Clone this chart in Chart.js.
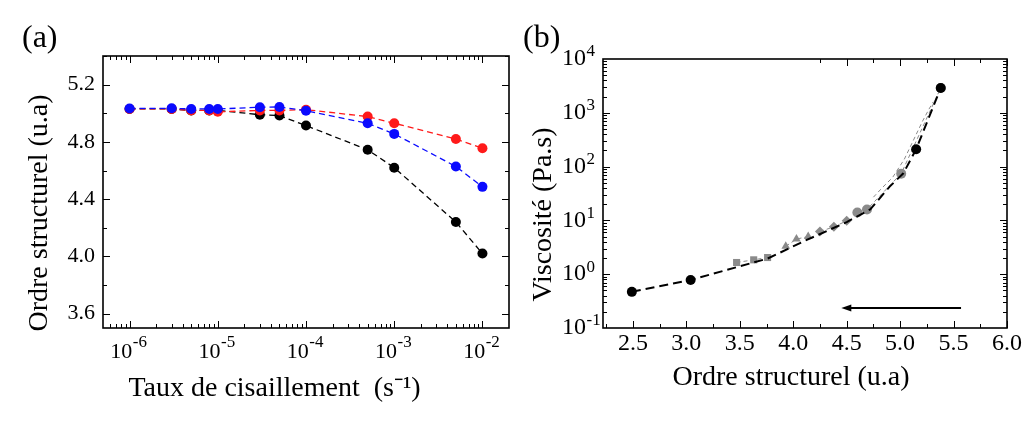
<!DOCTYPE html>
<html>
<head>
<meta charset="utf-8">
<script src="https://cdn.jsdelivr.net/npm/chart.js@4.4.0/dist/chart.umd.min.js"></script>
<style>
  html, body { margin: 0; padding: 0; background: #fff; }
  #wrap { position: relative; width: 1024px; height: 425px; overflow: hidden; }
  .panel { position: absolute; top: 0; height: 425px; }
  #pa { left: 0; width: 520px; }
  #pb { left: 520px; width: 504px; }
  .lbl { position: absolute; top: 20px; font-family: "Liberation Serif", serif; font-size: 32px; line-height: 1; color: #000; }
</style>
</head>
<body>
<div id="wrap">
  <div class="panel" id="pa"><canvas id="chartA" width="520" height="425"></canvas></div>
  <div class="panel" id="pb"><canvas id="chartB" width="504" height="425"></canvas></div>
  <div class="lbl" style="left:22px">(a)</div>
  <div class="lbl" style="left:523px">(b)</div>
</div>
<script>
// ---- Panel (a) data : ordre structurel vs taux de cisaillement
const shearRates = [1e-6, 3e-6, 5e-6, 8e-6, 1e-5, 3e-5, 5e-5, 1e-4, 5e-4, 1e-3, 5e-3, 1e-2];
const orderBlack = [5.03, 5.03, 5.02, 5.02, 5.02, 4.99, 4.984, 4.914, 4.745, 4.62, 4.24, 4.02];
const orderRed   = [5.03, 5.03, 5.02, 5.02, 5.01, 5.02, 5.02, 5.025, 4.977, 4.93, 4.82, 4.755];
const orderBlue  = [5.033, 5.035, 5.03, 5.03, 5.03, 5.042, 5.044, 5.018, 4.93, 4.856, 4.628, 4.486];
const aXTicks = [1e-6, 1e-5, 1e-4, 1e-3, 1e-2];
const aYTicks = [3.6, 4.0, 4.4, 4.8, 5.2];

// ---- Panel (b) data : viscosite vs ordre structurel
const fitOrder = [2.49, 3.04, 3.76, 4.1, 4.5, 4.72, 4.9, 5.03, 5.15, 5.38];
const fitVisc  = [0.47, 0.78, 1.95, 4.1, 9.3, 16, 42, 75, 210, 2900];
const blackOrder = [2.49, 3.04, 5.15, 5.38];
const blackVisc  = [0.47, 0.78, 210, 2900];
const squareOrder = [3.47, 3.63, 3.76];
const squareVisc  = [1.65, 1.85, 2.04];
const triOrder = [3.93, 4.03, 4.14];
const triVisc  = [3.3, 4.5, 5.0];
const diamOrder = [4.25, 4.38, 4.50];
const diamVisc  = [6.2, 7.6, 9.8];
const circOrder = [4.60, 4.69, 5.01, 5.38];
const circVisc  = [14, 16, 74, 2900];
const crossOrder = [4.75, 4.83, 4.93, 5.04, 5.21, 5.27, 5.31];
const crossVisc  = [27, 40, 63, 138, 700, 1170, 1600];
const bXTicks = [2.5, 3.0, 3.5, 4.0, 4.5, 5.0, 5.5, 6.0];
const bYTicks = [0.1, 1, 10, 100, 1000, 10000];
const arrowFrom = [5.57, 0.235];
const arrowTo   = [4.45, 0.235];

const SERIF = '"Liberation Serif", "Times New Roman", serif';
const pts = (xs, ys) => xs.map((x, i) => ({x: x, y: ys[i]}));
const expOf = v => String(Math.round(Math.log10(v)));
const sp = n => ' '.repeat(n); // decalage des titres (pas centres dans l'original)

// cadre + graduations vers l'interieur (comme le graphique d'origine)
function tickList(scale, log, step) {
  const out = [];
  const lo = scale.min, hi = scale.max;
  if (log) {
    for (let e = Math.floor(Math.log10(lo)); e <= Math.ceil(Math.log10(hi)); e++) {
      for (let k = 1; k < 10; k++) {
        const v = k * Math.pow(10, e);
        if (v > lo * 1.001 && v < hi * 0.999) out.push({v: v, major: k === 1});
      }
    }
  } else {
    const start = Math.ceil(lo / step - 1e-6) * step;
    for (let v = start; v <= hi + 1e-9; v += step) {
      out.push({v: v, major: scale.ticks.some(t => Math.abs(t.value - v) < 1e-6)});
    }
  }
  return out;
}

const frameTicks = {
  id: 'frameTicks',
  afterDraw(chart, args, o) {
    const {ctx, chartArea: a} = chart;
    const xs = chart.scales.x, ys = chart.scales.y;
    ctx.save();
    ctx.strokeStyle = '#000';
    ctx.lineWidth = 1;
    ctx.beginPath();
    tickList(xs, o.xLog, o.xStep).forEach(t => {
      const p = Math.round(xs.getPixelForValue(t.v)) + 0.5;
      const len = t.major ? 7 : 4;
      ctx.moveTo(p, a.bottom); ctx.lineTo(p, a.bottom - len);
      if (o.topFrom == null || t.v >= o.topFrom) { ctx.moveTo(p, a.top); ctx.lineTo(p, a.top + len); }
    });
    tickList(ys, o.yLog, o.yStep).forEach(t => {
      const p = Math.round(ys.getPixelForValue(t.v)) + 0.5;
      const len = t.major ? 7 : 4;
      ctx.moveTo(a.left, p); ctx.lineTo(a.left + len, p);
      ctx.moveTo(a.right, p); ctx.lineTo(a.right - len, p);
    });
    ctx.stroke();
    ctx.lineWidth = 1.6;
    ctx.strokeRect(a.left, a.top, a.right - a.left, a.bottom - a.top);
    ctx.restore();
  }
};

// exposants des etiquettes "10^n" (le label Chart.js garde la place avec des espaces)
const expLabels = {
  id: 'expLabels',
  afterDraw(chart, args, o) {
    const {ctx} = chart;
    const s = chart.scales[o.axis];
    ctx.save();
    ctx.fillStyle = '#000';
    ctx.textBaseline = 'middle';
    ctx.textAlign = 'left';
    s.ticks.forEach(t => {
      ctx.font = o.size + 'px ' + SERIF;
      const wTen = ctx.measureText('10').width;
      const wAll = ctx.measureText(t.label).width;
      const p = s.getPixelForValue(t.value);
      let left, cy;
      if (o.axis === 'x') {
        left = p - wAll / 2;
        cy = s.top + o.pad + o.size * 0.6;
      } else {
        left = s.right - o.pad - wAll;
        cy = p;
      }
      ctx.font = o.expSize + 'px ' + SERIF;
      ctx.fillText(expOf(t.value), left + wTen + 0.5, cy - o.rise);
    });
    ctx.restore();
  }
};

const arrowPlugin = {
  id: 'arrow',
  afterDatasetsDraw(chart) {
    const {ctx} = chart;
    const xs = chart.scales.x, ys = chart.scales.y;
    const x0 = xs.getPixelForValue(arrowFrom[0]), y0 = ys.getPixelForValue(arrowFrom[1]);
    const x1 = xs.getPixelForValue(arrowTo[0]), y1 = ys.getPixelForValue(arrowTo[1]);
    ctx.save();
    ctx.strokeStyle = '#000'; ctx.fillStyle = '#000'; ctx.lineWidth = 2;
    ctx.beginPath(); ctx.moveTo(x0, y0); ctx.lineTo(x1 + 6, y1); ctx.stroke();
    ctx.beginPath(); ctx.moveTo(x1, y1); ctx.lineTo(x1 + 10, y1 - 3.5); ctx.lineTo(x1 + 10, y1 + 3.5); ctx.closePath(); ctx.fill();
    ctx.restore();
  }
};

Chart.defaults.font.family = SERIF;
Chart.defaults.color = '#000';

function lineSet(data, color, dash, width, radius, style) {
  return {
    data: data, borderColor: color, backgroundColor: color,
    borderWidth: width, borderDash: dash, pointRadius: radius,
    pointStyle: style || 'circle', pointBorderWidth: 0, showLine: true
  };
}

// ---- Chart (a)
new Chart(document.getElementById('chartA'), {
  type: 'scatter',
  data: {
    datasets: [
      lineSet(pts(shearRates, orderBlue), '#0a0aff', [6, 4], 1.3, 5),
      lineSet(pts(shearRates, orderRed), '#ff1a1a', [6, 4], 1.3, 5),
      lineSet(pts(shearRates, orderBlack), '#000', [6, 4], 1.3, 5)
    ]
  },
  options: {
    responsive: false, animation: false, devicePixelRatio: 1,
    layout: { padding: { top: 56, right: 11, left: 0, bottom: 0 } },
    plugins: { legend: { display: false }, tooltip: { enabled: false },
      frameTicks: { xLog: true, yLog: false, yStep: 0.2 },
      expLabels: { axis: 'x', size: 22, pad: 11, expSize: 17, rise: 10 } },
    scales: {
      x: {
        type: 'logarithmic', min: 5e-7, max: 2e-2,
        afterBuildTicks: s => { s.ticks = aXTicks.map(v => ({value: v})); },
        afterFit: s => { s.height = 97; },
        grid: { display: false, drawTicks: false }, border: { display: false },
        ticks: { autoSkip: false, maxRotation: 0, padding: 11, font: { family: SERIF, size: 22 }, callback: () => '10   ' },
        title: { display: true, text: 'Taux de cisaillement  (s\u207B\u00B9)' + sp(9), font: { family: SERIF, size: 28 }, padding: { top: 0, bottom: 20 } }
      },
      y: {
        type: 'linear', min: 3.5, max: 5.4,
        afterBuildTicks: s => { s.ticks = aYTicks.map(v => ({value: v})); },
        afterFit: s => { s.width = 103; },
        grid: { display: false, drawTicks: false }, border: { display: false },
        ticks: { padding: 8, font: { family: SERIF, size: 22 }, callback: v => v.toFixed(1) },
        title: { display: true, text: 'Ordre structurel (u.a)' + sp(6), font: { family: SERIF, size: 28 }, padding: { top: 23, bottom: 0 } }
      }
    }
  },
  plugins: [frameTicks, expLabels]
});

// ---- Chart (b)
const GRAY = '#8a8a8a';
new Chart(document.getElementById('chartB'), {
  type: 'scatter',
  data: {
    datasets: [
      lineSet(pts(blackOrder, blackVisc), '#000', [], 0, 5),
      lineSet(pts(fitOrder, fitVisc), '#000', [9, 5], 2, 0),
      lineSet(pts(squareOrder, squareVisc), GRAY, [4, 3], 1, 5, 'rect'),
      lineSet(pts(triOrder, triVisc), GRAY, [4, 3], 1, 5, 'triangle'),
      lineSet(pts(diamOrder, diamVisc), GRAY, [4, 3], 1, 5, 'rectRot'),
      lineSet(pts(crossOrder, crossVisc), GRAY, [4, 3], 1, 5, 'cross'),
      lineSet(pts(circOrder, circVisc), GRAY, [4, 3], 1, 5, 'circle')
    ]
  },
  options: {
    responsive: false, animation: false, devicePixelRatio: 1,
    layout: { padding: { top: 59, right: 17, left: 0, bottom: 0 } },
    plugins: { legend: { display: false }, tooltip: { enabled: false },
      frameTicks: { xLog: false, xStep: 0.25, yLog: true, topFrom: 4.2 },
      expLabels: { axis: 'y', size: 24, pad: 5, expSize: 17, rise: 7 } },
    elements: { point: { borderWidth: 1.5 } },
    scales: {
      x: {
        type: 'linear', min: 2.22, max: 6.0,
        afterBuildTicks: s => { s.ticks = bXTicks.map(v => ({value: v})); },
        afterFit: s => { s.height = 97; },
        grid: { display: false, drawTicks: false }, border: { display: false },
        ticks: { autoSkip: false, maxRotation: 0, padding: 1, font: { family: SERIF, size: 24 }, callback: v => v.toFixed(1) },
        title: { display: true, text: 'Ordre structurel (u.a)' + sp(4), font: { family: SERIF, size: 28 }, padding: { top: 0, bottom: 31 } }
      },
      y: {
        type: 'logarithmic', min: 0.1, max: 10000,
        afterBuildTicks: s => { s.ticks = bYTicks.map(v => ({value: v})); },
        afterFit: s => { s.width = 83; },
        grid: { display: false, drawTicks: false }, border: { display: false },
        ticks: { autoSkip: false, padding: 5, font: { family: SERIF, size: 24 }, callback: () => '10  ' },
        title: { display: true, text: 'Viscosit\u00E9 (Pa.s)' + sp(6), font: { family: SERIF, size: 28 }, padding: { top: 7, bottom: 0 } }
      }
    }
  },
  plugins: [frameTicks, expLabels, arrowPlugin]
});
</script>
</body>
</html>
